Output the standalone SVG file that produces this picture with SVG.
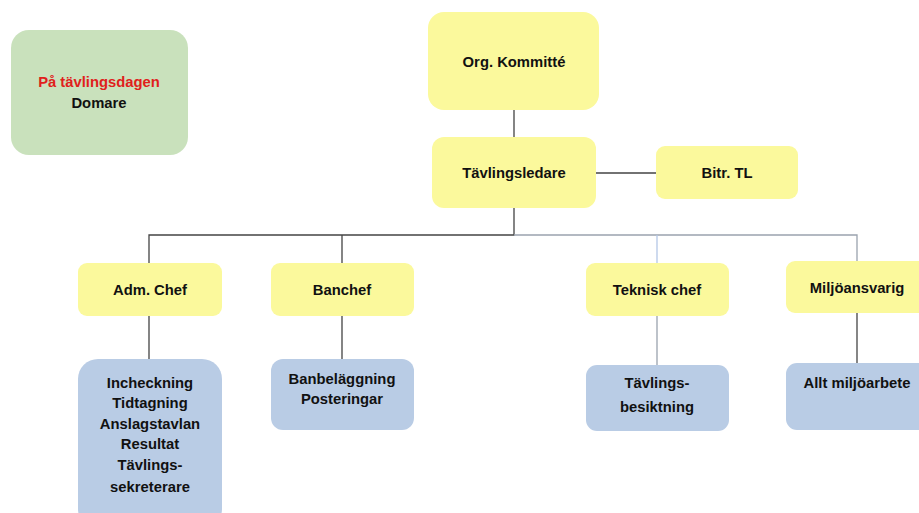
<svg xmlns="http://www.w3.org/2000/svg" width="919" height="513" viewBox="0 0 919 513">
<style>
.y{fill:#FBF99C}
.b{fill:#B9CCE5}
.g{fill:#C9E1BC}
text{font-family:"Liberation Sans",Arial,sans-serif;font-weight:bold;font-size:14.8px;fill:#111;text-anchor:middle;dominant-baseline:central}
.c{fill:none;stroke-width:1.3}
</style>
<g id="connectors">
<path class="c" stroke="#444" d="M514 110V137M596 173H656M514 208V235H149V263M342 235V263M149 316V359M342 316V359"/>
<path class="c" stroke="#9AA3AE" d="M514 235H857V261M657 316V365"/>
<path class="c" stroke="#B4C7E7" d="M657 235V263"/>
<path class="c" stroke="#444" d="M857 313V363"/>
</g>
<g id="domare"><rect class="g" x="11" y="30" width="177" height="125" rx="18"/><text x="99" y="82" style="fill:#E0201B">På tävlingsdagen</text><text x="99" y="103">Domare</text></g>
<g id="org"><rect class="y" x="428" y="12" width="171" height="98" rx="16"/><text x="514" y="62">Org. Kommitté</text></g>
<g id="tl"><rect class="y" x="432" y="137" width="164" height="71" rx="12"/><text x="514" y="173">Tävlingsledare</text></g>
<g id="bitr"><rect class="y" x="656" y="146" width="142" height="53" rx="9"/><text x="727" y="173">Bitr. TL</text></g>
<g id="adm"><rect class="y" x="78" y="263" width="144" height="53" rx="9"/><text x="150" y="290">Adm. Chef</text></g>
<g id="banchef"><rect class="y" x="271" y="263" width="143" height="53" rx="9"/><text x="342" y="290">Banchef</text></g>
<g id="teknisk"><rect class="y" x="586" y="263" width="143" height="53" rx="9"/><text x="657" y="290">Teknisk chef</text></g>
<g id="miljo"><rect class="y" x="786" y="261" width="150" height="52" rx="9"/><text x="857" y="288">Miljöansvarig</text></g>
<g id="adm-tasks"><rect class="b" x="78" y="359" width="144" height="170" rx="20"/>
<text x="150" y="383">Incheckning</text><text x="150" y="403">Tidtagning</text><text x="150" y="424">Anslagstavlan</text><text x="150" y="444">Resultat</text><text x="150" y="465">Tävlings-</text><text x="150" y="487">sekreterare</text></g>
<g id="ban-tasks"><rect class="b" x="271" y="359" width="143" height="71" rx="12"/><text x="342" y="379">Banbeläggning</text><text x="342" y="399">Posteringar</text></g>
<g id="tek-tasks"><rect class="b" x="586" y="365" width="143" height="66" rx="11"/><text x="657" y="383">Tävlings-</text><text x="657" y="407">besiktning</text></g>
<g id="miljo-tasks"><rect class="b" x="786" y="363" width="150" height="67" rx="11"/><text x="857" y="383">Allt miljöarbete</text></g>
</svg>
